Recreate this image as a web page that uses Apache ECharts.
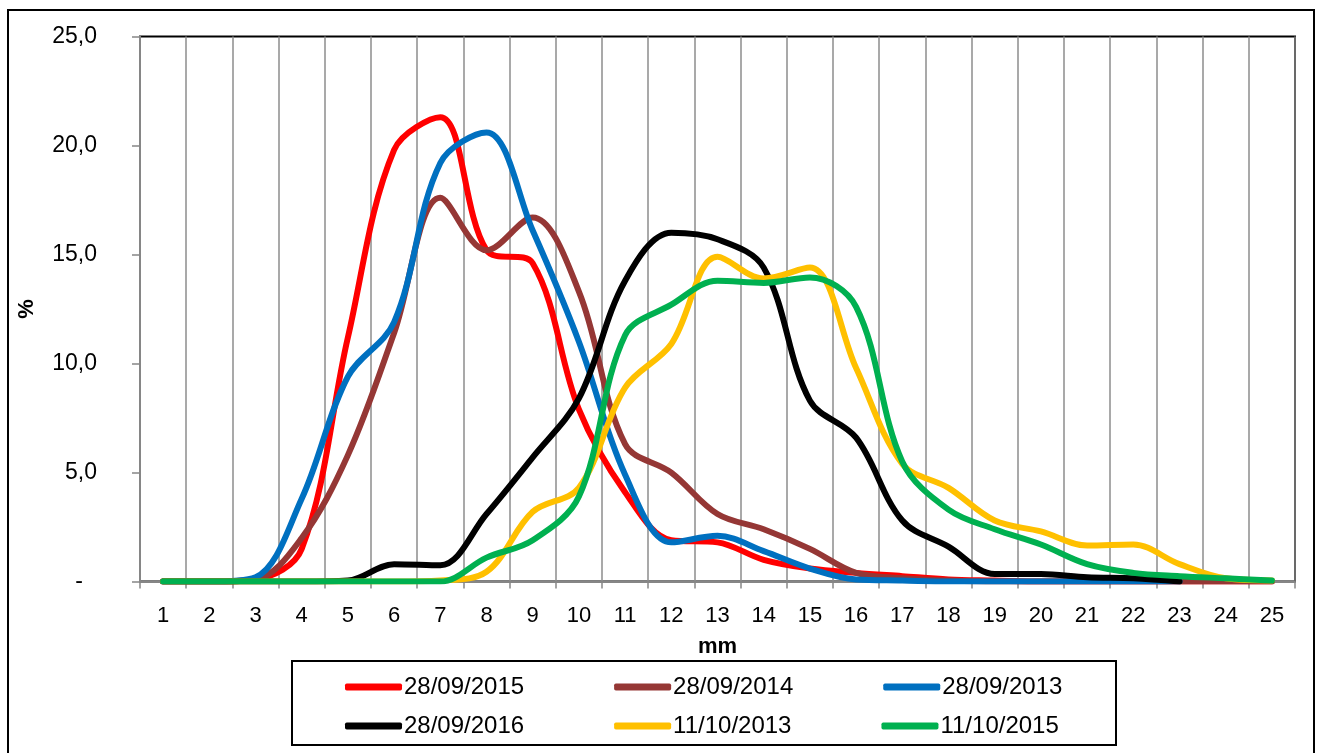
<!DOCTYPE html>
<html>
<head>
<meta charset="utf-8">
<script src="https://cdn.jsdelivr.net/npm/echarts@6/dist/echarts.min.js"></script>
<style>
  html, body { margin: 0; padding: 0; background: #fff; }
  #chart { width: 1317px; height: 753px; }
</style>
</head>
<body>
<div id="chart"></div>
<script>
// ---- data ----
const categories = ['1','2','3','4','5','6','7','8','9','10','11','12','13','14','15','16','17','18','19','20','21','22','23','24','25'];
const yTickLabels = ['-', '5,0', '10,0', '15,0', '20,0', '25,0'];
const seriesNames = ['28/09/2015', '28/09/2014', '28/09/2013', '28/09/2016', '11/10/2013', '11/10/2015'];

const s20150928 = [0, 0, 0.1, 1.5, 11.2, 19.8, 21.3, 15.2, 14.6, 7.9, 4.1, 1.9, 1.8, 1.0, 0.6, 0.4, 0.25, 0.1, 0.05, 0, 0, 0, 0, 0, 0];
const s20140928 = [0, 0, 0.1, 2.0, 5.8, 11.4, 17.6, 15.2, 16.7, 13.3, 6.3, 5.0, 3.1, 2.4, 1.5, 0.4, 0.15, 0.05, 0, 0, 0, 0, 0, 0, 0];
const s20130928 = [0, 0, 0.2, 3.8, 9.4, 11.9, 19.2, 20.6, 16.1, 11.0, 4.9, 1.8, 2.1, 1.4, 0.6, 0.1, 0.05, 0, 0, 0, 0, 0, 0, null, null];
const s20160928 = [0, 0, 0, 0, 0.05, 0.8, 0.75, 3.1, 5.7, 8.4, 13.8, 16.0, 15.7, 14.4, 8.3, 6.6, 2.8, 1.6, 0.35, 0.35, 0.2, 0.15, 0, null, null];
const s20131011 = [0, 0, 0, 0, 0, 0, 0.05, 0.45, 3.2, 4.3, 8.9, 10.9, 14.9, 13.9, 14.4, 9.8, 5.4, 4.3, 2.8, 2.3, 1.65, 1.7, 0.8, 0.15, 0.05];
const s20151011 = [0, 0, 0, 0, 0, 0, 0, 1.1, 1.9, 3.9, 11.3, 12.7, 13.8, 13.7, 13.95, 12.6, 5.5, 3.3, 2.4, 1.7, 0.8, 0.4, 0.25, 0.15, 0.05];

const seriesData = [s20150928, s20140928, s20130928, s20160928, s20131011, s20151011];
const seriesColors = ['#FF0000', '#953735', '#0070C0', '#000000', '#FFC000', '#00B050'];

// ---- chart ----
const FONT = '"Liberation Sans", Arial, sans-serif';
const chart = echarts.init(document.getElementById('chart'), null, { renderer: 'canvas' });

const series = seriesNames.map((name, i) => ({
  name: name,
  type: 'line',
  data: seriesData[i],
  smooth: 0.35,
  symbol: 'none',
  connectNulls: false,
  lineStyle: { color: seriesColors[i], width: 6, cap: 'round', join: 'round' },
  itemStyle: { color: seriesColors[i] },
  emphasis: { disabled: true },
  animation: false
}));

const legendCommon = {
  left: 340,
  orient: 'horizontal',
  icon: 'roundRect',
  itemWidth: 57,
  itemHeight: 7,
  itemGap: 90,
  textStyle: { fontFamily: FONT, fontSize: 24, color: '#000', padding: [0, 0, 0, -3] },
  selectedMode: false
};

const option = {
  backgroundColor: '#ffffff',
  animation: false,
  grid: {
    left: 140, top: 36.5, right: 22, bottom: 171.4,
    show: true, borderColor: '#000', borderWidth: 2, backgroundColor: 'transparent'
  },
  legend: [
    Object.assign({}, legendCommon, { top: 670, data: seriesNames.slice(0, 3) }),
    Object.assign({}, legendCommon, { top: 709, data: seriesNames.slice(3, 6) })
  ],
  xAxis: {
    type: 'category',
    data: categories,
    boundaryGap: true,
    name: 'mm',
    nameLocation: 'middle',
    nameGap: 54,
    nameTextStyle: { fontFamily: FONT, fontSize: 22, fontWeight: 'bold', color: '#000' },
    axisLine: { show: true, lineStyle: { color: '#868686', width: 2 } },
    axisTick: { show: true, length: 7, lineStyle: { color: '#868686', width: 1.5 } },
    axisLabel: { interval: 0, margin: 23, fontFamily: FONT, fontSize: 22, color: '#000' },
    splitLine: { show: true, interval: 0, lineStyle: { color: '#8c8c8c', width: 1.5 } }
  },
  yAxis: {
    type: 'value',
    min: 0, max: 25, interval: 5,
    name: '%',
    nameLocation: 'middle',
    nameRotate: 90,
    nameGap: 102,
    nameTextStyle: { fontFamily: FONT, fontSize: 22, fontWeight: 'bold', color: '#000' },
    axisLine: { show: true, lineStyle: { color: '#868686', width: 2 } },
    axisTick: { show: true, length: 8, lineStyle: { color: '#868686', width: 1.5 } },
    axisLabel: {
      margin: 43,
      fontFamily: FONT, fontSize: 23, color: '#000',
      formatter: function (v) {
        const idx = Math.round(v / 5);
        if (idx === 0) return '{z|' + yTickLabels[0] + '}';
        return yTickLabels[idx];
      },
      rich: { z: { fontFamily: FONT, fontSize: 23, color: '#000', padding: [0, 14, 0, 0] } }
    },
    splitLine: { show: false }
  },
  graphic: [
    {
      type: 'rect', silent: true, z: -1,
      shape: { x: 8, y: 10, width: 1306, height: 760 },
      style: { fill: 'none', stroke: '#000', lineWidth: 2 }
    },
    {
      type: 'rect', silent: true, z: -1,
      shape: { x: 292, y: 661, width: 824, height: 84 },
      style: { fill: 'none', stroke: '#000', lineWidth: 2 }
    }
  ],
  series: series
};

chart.setOption(option);
</script>
</body>
</html>
